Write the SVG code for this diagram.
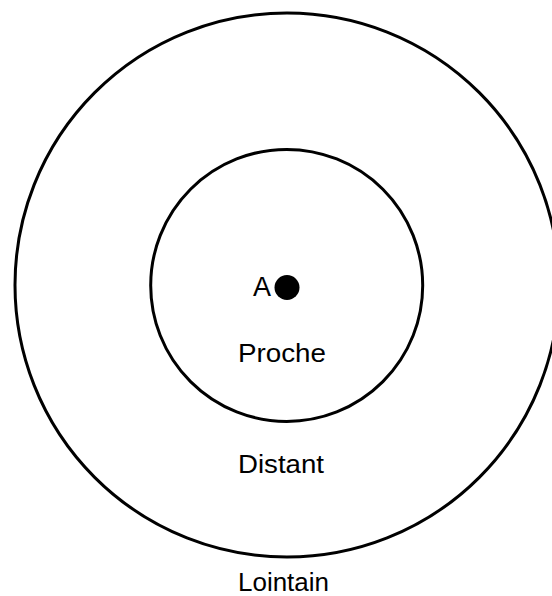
<svg xmlns="http://www.w3.org/2000/svg" width="552" height="596" viewBox="0 0 552 596">
<style>
.ring{fill:none;stroke:#000;stroke-width:3}
.lbl{font-family:"Liberation Sans",Arial,sans-serif;font-size:26px;fill:#000}
</style>
<rect width="552" height="596" fill="#fff"/>
<g id="lointain">
<circle class="ring" cx="287" cy="285" r="272"/>
<text class="lbl" x="238" y="591" textLength="91" lengthAdjust="spacingAndGlyphs">Lointain</text>
</g>
<g id="proche">
<circle class="ring" cx="286.7" cy="285.4" r="136"/>
<text class="lbl" x="238" y="361.5" textLength="88" lengthAdjust="spacingAndGlyphs">Proche</text>
</g>
<g id="distant">
<text class="lbl" x="238" y="472.5" textLength="86" lengthAdjust="spacingAndGlyphs">Distant</text>
</g>
<g id="A">
<circle cx="287" cy="287.5" r="12.5" fill="#000"/>
<text class="lbl" x="253" y="296" style="font-size:27px">A</text>
</g>
<g id="connectors"/>
</svg>
